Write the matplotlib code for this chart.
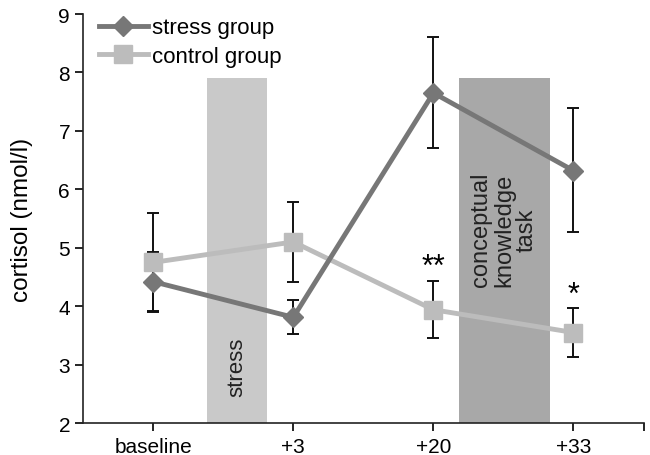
import numpy as np
import matplotlib
matplotlib.use("Agg")
import matplotlib.pyplot as plt

plt.rcParams['font.family'] = ['Liberation Sans', 'DejaVu Sans']

# data
timepoints = ['baseline', '+3', '+20', '+33']
stress_mean = [4.42, 3.81, 7.65, 6.32]
stress_lo = [3.92, 3.52, 6.70, 5.27]
stress_hi = [4.92, 4.10, 8.60, 7.40]
control_mean = [4.75, 5.10, 3.94, 3.55]
control_lo = [3.90, 4.42, 3.46, 3.13]
control_hi = [5.60, 5.78, 4.44, 3.97]

# shaded intervals (x in category units) and their labels
stress_span = (0.386, 0.814)
task_span = (2.18, 2.83)
span_top = 7.9


def main():
    fig, ax = plt.subplots(figsize=(6.5, 4.56), dpi=100)
    fig.subplots_adjust(left=0.128, right=0.99, top=0.967, bottom=0.07)

    x = np.arange(len(timepoints))

    # background intervals
    ax.bar((stress_span[0] + stress_span[1]) / 2, span_top - 2, bottom=2,
           width=stress_span[1] - stress_span[0], color='#c9c9c9', zorder=1)
    ax.bar((task_span[0] + task_span[1]) / 2, span_top - 2, bottom=2,
           width=task_span[1] - task_span[0], color='#a8a8a8', zorder=1)
    ax.text(sum(stress_span) / 2, 2.97, 'stress', rotation=90, ha='center',
            va='center', fontsize=16, color='#222222', zorder=2)
    ax.text(sum(task_span) / 2, 5.32, 'conceptual\nknowledge\ntask',
            rotation=90, ha='center', va='center', fontsize=17,
            color='#222222', linespacing=1.05, zorder=2)

    # error bars
    for mean, lo, hi in ((stress_mean, stress_lo, stress_hi),
                         (control_mean, control_lo, control_hi)):
        mean = np.array(mean)
        yerr = [mean - np.array(lo), np.array(hi) - mean]
        ax.errorbar(x, mean, yerr=yerr, fmt='none', ecolor='#111111',
                    elinewidth=1.4, capsize=4, capthick=1.4, zorder=3)

    ax.plot(x, stress_mean, color='#777777', lw=3.5, marker='D',
            markersize=10, label='stress group', zorder=5)
    ax.plot(x, control_mean, color='#bcbcbc', lw=3.5, marker='s',
            markersize=13, label='control group', zorder=4)

    # significance stars
    ax.text(2, 4.42, '**', ha='center', va='bottom', fontsize=22)
    ax.text(3, 3.93, '*', ha='center', va='bottom', fontsize=22)

    ax.set_xlim(-0.5, 3.5)
    ax.set_ylim(2, 9)
    ax.set_xticks(x)
    ax.set_xticklabels(timepoints, fontsize=15)
    ax.set_xticks([3.5], minor=True)
    ax.set_yticks(range(2, 10))
    ax.tick_params(axis='y', labelsize=15, length=6, width=1.2)
    ax.tick_params(axis='x', which='both', length=6, width=1.2, pad=4)
    ax.set_ylabel('cortisol (nmol/l)', fontsize=17.5)
    ax.yaxis.set_label_coords(-0.09, 0.5)

    for side in ('top', 'right'):
        ax.spines[side].set_visible(False)
    for side in ('left', 'bottom'):
        ax.spines[side].set_linewidth(1.2)
        ax.spines[side].set_color('#222222')

    ax.legend(loc='upper left', bbox_to_anchor=(0.0, 1.03), frameon=False,
              fontsize=16, handlelength=2.2, handletextpad=0.2,
              labelspacing=0.35, borderaxespad=0.3)

    fig.savefig('out.png', dpi=100)


if __name__ == '__main__':
    main()
